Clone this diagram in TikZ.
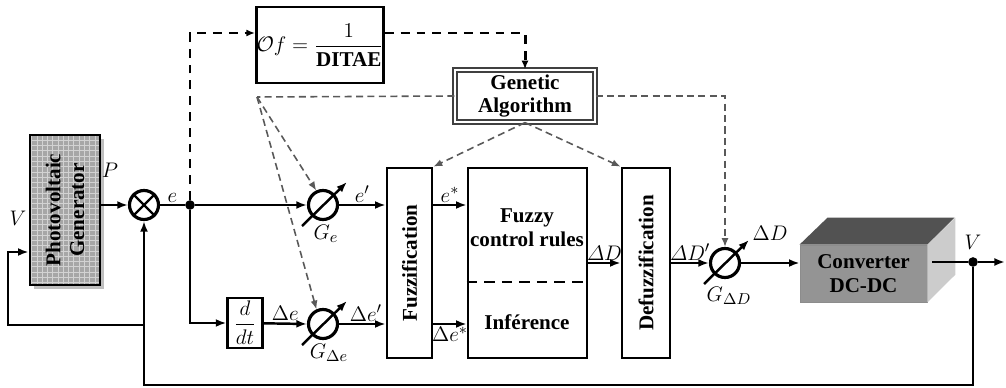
\documentclass[tikz,border=0pt]{standalone}
\usepackage{amsmath,amssymb}
\usepackage{fontspec}
\setmainfont{Liberation Serif}
\usepackage{tikz}
\usetikzlibrary{arrows.meta, positioning, calc, shadows, patterns}

\newcommand{\blockfont}{\fontsize{12}{13.5}\selectfont\bfseries}
\newcommand{\sigfont}{\fontsize{13}{15}\selectfont}

\begin{document}
\begin{tikzpicture}[
    x=0.02cm, y=-0.02cm,
    line/.style={line width=1.4pt, draw=black},
    arrow/.style={line, -{Latex[length=6pt,width=4.5pt]}},
    block/.style={rectangle, draw=black, line width=1.6pt, inner sep=0pt,
                  fill=white, align=center, font=\blockfont},
    gain/.style={circle, draw=black, line width=1.8pt,
                 minimum size=0.58cm, inner sep=0pt},
    ctrl/.style={line width=1.7pt, dash pattern=on 5pt off 4pt,
                 -{Latex[length=5pt,width=4pt]}},
    tune/.style={draw=black!65, line width=0.9pt, dash pattern=on 4pt off 2.5pt,
                 -{Latex[length=5pt,width=4pt]}},
    sig/.style={font=\sigfont, inner sep=1pt},
    dot/.style={circle, fill=black, inner sep=0pt, minimum size=5.5pt}
]
\useasboundingbox (0,0) rectangle (1006,388);

%% --- SOURCE AND ERROR ---
\node[block, drop shadow, preaction={fill=gray!70}, pattern=grid,
      pattern color=gray!35, minimum width=1.4cm, minimum height=3cm] (pv) at (65,210) {};
\node[font=\blockfont, rotate=90, align=center] (pvtxt) at (pv) {Photovoltaic\\Generator};
\node[gain] (sum) at (144,205) {};
\draw[line] (sum.45) -- (sum.225) (sum.135) -- (sum.315);
\node[dot] (jn) at (190,205) {};
\node[sig] (plbl) at (110,170) {$P$};
\node[sig] (vin) at (18,218) {$V$};

%% --- OBJECTIVE + GA ---
\node[block, minimum width=2.52cm, minimum height=1.52cm,
      font=\fontsize{12}{14}\selectfont] (of) at (320,45)
    {$\mathcal{O}f = \dfrac{1}{\textbf{DITAE}}$};
\node[block, double=white, double distance=1.6pt, draw=black!75, line width=0.7pt,
      minimum width=2.8cm, minimum height=1.04cm] (ga) at (525,96) {Genetic\\Algorithm};
\coordinate (gacorner) at (257,97);

%% --- GAINS AND DERIVATIVE ---
\node[gain] (ge)  at (323,205) {};
\node[gain] (gde) at (323,324) {};
\node[gain] (gdd) at (725,263) {};
\foreach \g in {ge,gde,gdd}
    \draw[line, -{Latex[length=6pt,width=4.5pt]}] ($(\g)+(-21,21)$) -- ($(\g)+(24,-23)$);
\node[sig] (gelbl)  at (326,234) {$G_e$};
\node[sig] (gdelbl) at (329,353) {$G_{\Delta e}$};
\node[sig] (gddlbl) at (729,296) {$G_{\Delta D}$};
\node[block, line width=1.3pt, minimum width=0.7cm, minimum height=1cm, font=\sigfont] (ddt) at (245,323)
    {$\dfrac{d}{dt}$};

%% --- FUZZY CONTROLLER ---
\node[block, minimum width=0.9cm, minimum height=3.8cm] (fuz) at (409.5,263) {};
\node[font=\blockfont, rotate=90] (fuztxt) at (fuz) {Fuzzification};
\node[block, minimum width=2.38cm, minimum height=3.8cm] (rules) at (527.5,263) {};
\node[font=\blockfont, align=center] (rulestxt) at (527,228) {Fuzzy\\control rules};
\node[font=\blockfont] (inftxt) at (527,322) {Inférence};
\draw[line, dash pattern=on 6pt off 4pt] ([yshift=-0.38cm]rules.west) -- ([yshift=-0.38cm]rules.east);
\node[block, minimum width=0.96cm, minimum height=3.8cm] (defuz) at (646,263) {};
\node[font=\blockfont, rotate=90] (defuztxt) at (defuz) {Defuzzification};

%% --- CONVERTER ---
\node[block, draw=black!45, line width=0.5pt, fill=black!42,
      minimum width=2.54cm, minimum height=1.14cm] (conv) at (863.5,273.5) {Converter\\DC-DC};
\fill[black!68] (conv.north west) -- ++(28,-27) -- ++(127,0) -- (conv.north east) -- cycle;
\fill[black!20] (conv.north east) -- ++(28,-27) -- ++(0,57) -- (conv.south east) -- cycle;
\coordinate (convout) at (932,262);
\node[dot] (vout) at (973,262) {};
\coordinate (vend) at (1005,262);
\coordinate (fbl) at (144,385);
\coordinate (fbj) at (144,325);
\coordinate (pvfb) at (8,252);

%% --- ARROWS: main loop ---
\draw[arrow] (pv.east |- sum) -- (sum.west);
\draw[line] (sum) -- node[sig, above] {$e$} (jn);
\draw[arrow] (jn) -- (ge.west);
\draw[arrow] (jn) |- (ddt.west);
\draw[arrow] (ddt) -- node[sig, above] {$\Delta e$} (gde.west);
\draw[arrow] (ge) -- node[sig, above] {$e'$} (fuz.west |- ge);
\draw[arrow] (gde) -- node[sig, above, xshift=2pt] {$\Delta e'$} (fuz.west |- gde);
\draw[arrow] (fuz.east |- ge) -- node[sig, above] {$e^{*}$} (rules.west |- ge);
\draw[arrow] (fuz.east |- gde) -- node[sig, below] {$\Delta e^{*}$} (rules.west |- gde);
\draw[arrow] (rules.east |- gdd) -- node[sig, above] {$\varDelta D$} (defuz.west |- gdd);
\draw[arrow] (defuz.east |- gdd) -- node[sig, above] {$\varDelta D'$} (gdd.west);
\node[sig] (ddlbl) at (770,233) {$\Delta D$};
\draw[arrow] (gdd) -- (conv.west |- gdd);
\draw[line] (convout) -- (vout);
\draw[arrow] (vout) -- (vend);
\node[sig, above=3pt of vout] (vlbl) {$V$};

%% --- ARROWS: feedback ---
\draw[arrow] (vout) |- (fbl) -- (sum.south);
\draw[arrow] (fbj) -| (pvfb) -- (pv.west |- pvfb);

%% --- ARROWS: optimisation ---
\draw[ctrl] (jn) |- ($(of.west)+(0,-12)$);
\draw[ctrl] ($(of.east)+(0,-12)$) -| (ga.north);
\draw[tune, -] (ga.west) -- (gacorner);
\draw[tune] (gacorner) -- (ge.115);
\draw[tune] (gacorner) -- (gde.114);
\draw[tune] (ga.east) -| (gdd.north);
\draw[tune] (ga.south) -- (fuz.north east);
\draw[tune] (ga.south) -- (defuz.north west);

\end{tikzpicture}
\end{document}
